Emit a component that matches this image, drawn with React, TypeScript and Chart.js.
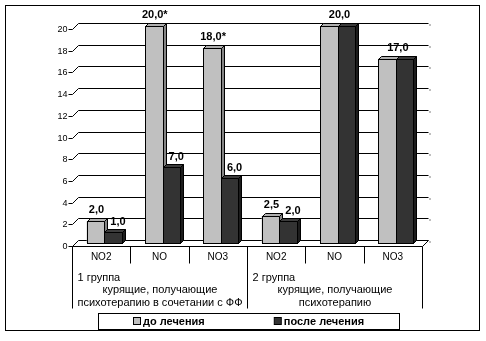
import React, { useEffect, useRef } from 'react';
import { Chart, registerables } from 'chart.js';

Chart.register(...registerables);

// ---- data ----
const categories = ['NO2', 'NO', 'NO3', 'NO2', 'NO', 'NO3'];
const seriesNames = ['до лечения', 'после лечения'];
const beforeValues = [2.0, 20.0, 18.0, 2.5, 20.0, 17.0];
const afterValues = [1.0, 7.0, 6.0, 2.0, 20.0, 17.0];
const beforeLabels = ['2,0', '20,0*', '18,0*', '2,5', '20,0', '17,0'];
const afterLabels = ['1,0', '7,0', '6,0', '2,0', '', ''];
const groupTitles = ['1 группа', '2 группа'];
const groupLines = [
  ['курящие, получающие', 'психотерапию в сочетании с ФФ'],
  ['курящие, получающие', 'психотерапию'],
];
const groupSizes = [3, 3];
const yMin = 0;
const yMax = 20;
const yStep = 2;

const FONT = "'Liberation Sans', Arial, sans-serif";
const D = 3; // half of the 3D depth
const COLORS = {
  light: { front: '#c0c0c0', top: '#b0b0b0', side: '#858585' },
  dark: { front: '#333333', top: '#3c3c3c', side: '#1c1c1c' },
};

function poly(ctx: CanvasRenderingContext2D, pts: number[][], fill: string) {
  ctx.beginPath();
  ctx.moveTo(pts[0][0], pts[0][1]);
  for (let i = 1; i < pts.length; i++) ctx.lineTo(pts[i][0], pts[i][1]);
  ctx.closePath();
  ctx.fillStyle = fill;
  ctx.fill();
  ctx.stroke();
}

function line(ctx: CanvasRenderingContext2D, x1: number, y1: number, x2: number, y2: number) {
  ctx.beginPath();
  ctx.moveTo(x1, y1);
  ctx.lineTo(x2, y2);
  ctx.stroke();
}

function drawBar3D(ctx: CanvasRenderingContext2D, el: any, c: { front: string; top: string; side: string }) {
  const p = el.getProps(['x', 'y', 'base', 'width'], true);
  const L = Math.round(p.x - p.width / 2) + 0.5;
  const R = Math.round(p.x + p.width / 2) + 0.5;
  const T = Math.round(p.y) + 0.5;
  const B = Math.round(p.base) + 0.5;
  ctx.strokeStyle = '#000';
  ctx.lineWidth = 1;
  ctx.fillStyle = c.front;
  ctx.fillRect(L, T, R - L, B - T);
  ctx.strokeRect(L, T, R - L, B - T);
  poly(ctx, [[L, T], [L + D, T - D], [R + D, T - D], [R, T]], c.top);
  poly(ctx, [[R, T], [R + D, T - D], [R + D, B - D], [R, B]], c.side);
}

const excel3d = {
  id: 'excel3d',
  beforeDatasetsDraw(chart: any) {
    const { ctx, chartArea: a, scales } = chart;
    const y = scales.y;
    ctx.save();
    ctx.strokeStyle = '#000';
    ctx.lineWidth = 1;
    // outer frame
    ctx.strokeRect(5.5, 5.5, 474, 325);
    const fl = a.left - D + 0.5;
    const fr = a.right - D + 0.5;
    ctx.font = `9px ${FONT}`;
    ctx.fillStyle = '#000';
    ctx.textAlign = 'right';
    ctx.textBaseline = 'middle';
    for (const t of y.ticks) {
      const yf = Math.round(y.getPixelForValue(t.value) + D) + 0.5;
      line(ctx, fl - 4, yf, fl, yf);
      line(ctx, fl, yf, fl + 2 * D, yf - 2 * D);
      line(ctx, fl + 2 * D, yf - 2 * D, fr + 2 * D, yf - 2 * D);
      ctx.fillRect(fr + 2 * D + 1, yf - 2 * D + 1, 1, 1);
      ctx.fillText(String(t.value), fl - 5, yf + 0.5);
    }
    // floor front & right edges
    const y0 = Math.round(y.getPixelForValue(yMin) + D) + 0.5;
    line(ctx, fl, y0, fr, y0);
    line(ctx, fr, y0, fr + 2 * D, y0 - 2 * D);
    ctx.restore();
  },
  afterDatasetsDraw(chart: any) {
    const { ctx, chartArea: a, scales } = chart;
    const x = scales.x;
    const y = scales.y;
    const m0 = chart.getDatasetMeta(0).data;
    const m1 = chart.getDatasetMeta(1).data;
    ctx.save();
    // 3D bars, drawn category by category so overlaps are right
    for (let i = 0; i < categories.length; i++) {
      drawBar3D(ctx, m0[i], COLORS.light);
      drawBar3D(ctx, m1[i], COLORS.dark);
    }
    // value labels
    ctx.font = `bold 11px ${FONT}`;
    ctx.fillStyle = '#000';
    ctx.textAlign = 'center';
    ctx.textBaseline = 'alphabetic';
    for (let i = 0; i < categories.length; i++) {
      const p0 = m0[i].getProps(['x', 'y'], true);
      const p1 = m1[i].getProps(['x', 'y'], true);
      if (afterLabels[i]) {
        ctx.fillText(beforeLabels[i], p0.x + 1, p0.y - 8);
        ctx.fillText(afterLabels[i], p1.x + 5, p1.y - 7);
      } else {
        ctx.fillText(beforeLabels[i], (p0.x + p1.x) / 2 + 2, Math.min(p0.y, p1.y) - 8);
      }
    }
    // category table below the floor
    ctx.strokeStyle = '#000';
    ctx.lineWidth = 1;
    const y0 = Math.round(y.getPixelForValue(yMin) + D) + 0.5;
    const catW = x.getPixelForValue(1) - x.getPixelForValue(0);
    const bx = (i: number) => Math.round(x.getPixelForValue(0) - catW / 2 + i * catW - D) + 0.5;
    const groupEdges = [0];
    groupSizes.forEach((s) => groupEdges.push(groupEdges[groupEdges.length - 1] + s));
    for (let i = 0; i <= categories.length; i++) {
      const isGroup = groupEdges.includes(i);
      line(ctx, bx(i), y0, bx(i), isGroup ? y0 + 62 : y0 + 17);
    }
    ctx.font = `10px ${FONT}`;
    ctx.textBaseline = 'middle';
    ctx.textAlign = 'center';
    for (let i = 0; i < categories.length; i++) {
      ctx.fillText(categories[i], x.getPixelForValue(i) - D, y0 + 11);
    }
    ctx.font = `11px ${FONT}`;
    for (let g = 0; g < groupTitles.length; g++) {
      const gl = bx(groupEdges[g]);
      const gr = bx(groupEdges[g + 1]);
      ctx.textAlign = 'left';
      ctx.fillText(groupTitles[g], gl + 5, y0 + 31);
      ctx.textAlign = 'center';
      groupLines[g].forEach((t, k) => ctx.fillText(t, (gl + gr) / 2, y0 + 43 + k * 13));
    }
    // legend
    const lx = 98.5, ly = 313.5, lw = 301, lh = 16;
    ctx.fillStyle = '#fff';
    ctx.fillRect(lx, ly, lw, lh);
    ctx.strokeRect(lx, ly, lw, lh);
    ctx.font = `bold 11px ${FONT}`;
    const gap = 69;
    const box = 7;
    const widths = seriesNames.map((n) => box + 3 + ctx.measureText(n).width);
    const total = widths.reduce((s, w) => s + w, 0) + gap * (widths.length - 1);
    let cx = Math.round(lx + lw / 2 - total / 2);
    const fills = [COLORS.light.front, COLORS.dark.front];
    ctx.textAlign = 'left';
    ctx.textBaseline = 'middle';
    seriesNames.forEach((n, k) => {
      ctx.fillStyle = fills[k];
      ctx.fillRect(cx + 0.5, ly + 4, box, box);
      ctx.strokeRect(cx + 0.5, ly + 4, box, box);
      ctx.fillStyle = '#000';
      ctx.fillText(n, cx + box + 3, ly + lh / 2 + 0.5);
      cx += widths[k] + gap;
    });
    ctx.restore();
  },
};

export default function App() {
  const ref = useRef<HTMLCanvasElement | null>(null);
  useEffect(() => {
    if (!ref.current) return;
    const chart = new Chart(ref.current, {
      type: 'bar',
      data: {
        labels: categories,
        datasets: [
          { label: seriesNames[0], data: beforeValues, backgroundColor: COLORS.light.front, borderWidth: 0 },
          { label: seriesNames[1], data: afterValues, backgroundColor: COLORS.dark.front, borderWidth: 0 },
        ],
      },
      options: {
        responsive: false,
        animation: false,
        devicePixelRatio: 1,
        layout: { padding: { left: 75, right: 61, top: 26, bottom: 98 } },
        datasets: { bar: { categoryPercentage: 0.6, barPercentage: 1, inflateAmount: 0 } as any },
        plugins: { legend: { display: false }, tooltip: { enabled: false } },
        scales: {
          x: { display: false },
          y: {
            display: true,
            min: yMin,
            max: yMax,
            ticks: { stepSize: yStep, display: false },
            grid: { display: false },
            border: { display: false },
            afterFit: (s: any) => {
              s.width = 0;
            },
          },
        },
      },
      plugins: [excel3d],
    });
    return () => chart.destroy();
  }, []);
  return (
    <div style={{ position: 'absolute', left: 0, top: 0, width: 486, height: 341, background: '#fff' }}>
      <canvas ref={ref} width={486} height={341} style={{ display: 'block' }} />
    </div>
  );
}
